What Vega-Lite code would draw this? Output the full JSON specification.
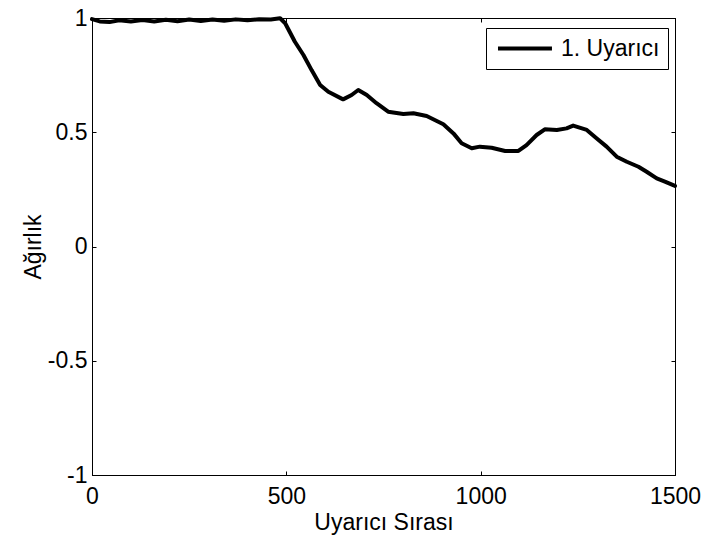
{
  "$schema": "https://vega.github.io/schema/vega-lite/v6.json",
  "width": 583,
  "height": 457,
  "autosize": {"type": "none"},
  "padding": {"left": 92, "top": 18, "right": 31, "bottom": 68},
  "background": "white",
  "config": {
    "font": "Liberation Sans",
    "view": {"stroke": "black", "strokeWidth": 1},
    "axis": {
      "labelFont": "Liberation Sans",
      "titleFont": "Liberation Sans",
      "labelFontSize": 23,
      "titleFontSize": 23,
      "titleFontWeight": "normal",
      "labelColor": "black",
      "titleColor": "black",
      "domainColor": "black",
      "tickColor": "black",
      "grid": false
    }
  },
  "data": {
    "values": [
      {"x": 0, "y": 0.995, "s": "1. Uyarıcı"},
      {"x": 20, "y": 0.985, "s": "1. Uyarıcı"},
      {"x": 45, "y": 0.982, "s": "1. Uyarıcı"},
      {"x": 70, "y": 0.99, "s": "1. Uyarıcı"},
      {"x": 100, "y": 0.985, "s": "1. Uyarıcı"},
      {"x": 130, "y": 0.991, "s": "1. Uyarıcı"},
      {"x": 160, "y": 0.985, "s": "1. Uyarıcı"},
      {"x": 190, "y": 0.992, "s": "1. Uyarıcı"},
      {"x": 220, "y": 0.986, "s": "1. Uyarıcı"},
      {"x": 250, "y": 0.993, "s": "1. Uyarıcı"},
      {"x": 280, "y": 0.987, "s": "1. Uyarıcı"},
      {"x": 310, "y": 0.993, "s": "1. Uyarıcı"},
      {"x": 340, "y": 0.988, "s": "1. Uyarıcı"},
      {"x": 370, "y": 0.994, "s": "1. Uyarıcı"},
      {"x": 400, "y": 0.99, "s": "1. Uyarıcı"},
      {"x": 430, "y": 0.995, "s": "1. Uyarıcı"},
      {"x": 460, "y": 0.993, "s": "1. Uyarıcı"},
      {"x": 484, "y": 0.999, "s": "1. Uyarıcı"},
      {"x": 497, "y": 0.977, "s": "1. Uyarıcı"},
      {"x": 522, "y": 0.896, "s": "1. Uyarıcı"},
      {"x": 544, "y": 0.838, "s": "1. Uyarıcı"},
      {"x": 565, "y": 0.772, "s": "1. Uyarıcı"},
      {"x": 587, "y": 0.707, "s": "1. Uyarıcı"},
      {"x": 608, "y": 0.677, "s": "1. Uyarıcı"},
      {"x": 646, "y": 0.644, "s": "1. Uyarıcı"},
      {"x": 668, "y": 0.663, "s": "1. Uyarıcı"},
      {"x": 685, "y": 0.685, "s": "1. Uyarıcı"},
      {"x": 707, "y": 0.663, "s": "1. Uyarıcı"},
      {"x": 732, "y": 0.627, "s": "1. Uyarıcı"},
      {"x": 762, "y": 0.59, "s": "1. Uyarıcı"},
      {"x": 801, "y": 0.58, "s": "1. Uyarıcı"},
      {"x": 827, "y": 0.583, "s": "1. Uyarıcı"},
      {"x": 861, "y": 0.571, "s": "1. Uyarıcı"},
      {"x": 904, "y": 0.535, "s": "1. Uyarıcı"},
      {"x": 930, "y": 0.495, "s": "1. Uyarıcı"},
      {"x": 951, "y": 0.452, "s": "1. Uyarıcı"},
      {"x": 977, "y": 0.43, "s": "1. Uyarıcı"},
      {"x": 998, "y": 0.437, "s": "1. Uyarıcı"},
      {"x": 1028, "y": 0.432, "s": "1. Uyarıcı"},
      {"x": 1063, "y": 0.418, "s": "1. Uyarıcı"},
      {"x": 1097, "y": 0.418, "s": "1. Uyarıcı"},
      {"x": 1118, "y": 0.444, "s": "1. Uyarıcı"},
      {"x": 1144, "y": 0.488, "s": "1. Uyarıcı"},
      {"x": 1165, "y": 0.513, "s": "1. Uyarıcı"},
      {"x": 1196, "y": 0.51, "s": "1. Uyarıcı"},
      {"x": 1221, "y": 0.517, "s": "1. Uyarıcı"},
      {"x": 1238, "y": 0.529, "s": "1. Uyarıcı"},
      {"x": 1273, "y": 0.51, "s": "1. Uyarıcı"},
      {"x": 1298, "y": 0.474, "s": "1. Uyarıcı"},
      {"x": 1324, "y": 0.437, "s": "1. Uyarıcı"},
      {"x": 1350, "y": 0.393, "s": "1. Uyarıcı"},
      {"x": 1376, "y": 0.371, "s": "1. Uyarıcı"},
      {"x": 1406, "y": 0.349, "s": "1. Uyarıcı"},
      {"x": 1427, "y": 0.327, "s": "1. Uyarıcı"},
      {"x": 1453, "y": 0.298, "s": "1. Uyarıcı"},
      {"x": 1474, "y": 0.284, "s": "1. Uyarıcı"},
      {"x": 1500, "y": 0.265, "s": "1. Uyarıcı"}
    ]
  },
  "layer": [
    {
      "mark": {"type": "line", "strokeWidth": 4, "strokeJoin": "round", "strokeCap": "round"},
      "encoding": {
        "x": {"field": "x", "type": "quantitative", "scale": {"domain": [0, 1500], "nice": false, "zero": false},
          "axis": {"orient": "bottom", "title": "Uyarıcı Sırası", "values": [0, 500, 1000, 1500], "labelExpr": "datum.value + ''", "tickSize": -4, "labelPadding": 14, "titlePadding": 3, "labelFlush": false}},
        "y": {"field": "y", "type": "quantitative", "scale": {"domain": [-1, 1], "nice": false, "zero": false},
          "axis": {"orient": "left", "title": "Ağırlık", "values": [-1, -0.5, 0, 0.5, 1], "labelExpr": "datum.value + ''", "tickSize": -4, "labelPadding": 9, "titlePadding": 2, "labelFlush": false}},
        "color": {"field": "s", "type": "nominal", "scale": {"range": ["black"]},
          "legend": {"title": null, "orient": "none", "legendX": 394, "legendY": 10, "strokeColor": "black", "fillColor": "white",
            "padding": 8, "symbolType": "M-0.81,0H4.33", "symbolSize": 441, "symbolStrokeWidth": 4, "labelFontSize": 23, "labelFont": "Liberation Sans", "labelColor": "black", "labelOffset": 42, "cornerRadius": 0}}
      }
    },
    {
      "mark": {"type": "line", "opacity": 0},
      "encoding": {
        "x": {"field": "x", "type": "quantitative", "scale": {"domain": [0, 1500], "nice": false, "zero": false},
          "axis": {"orient": "top", "title": null, "labels": false, "values": [0, 500, 1000, 1500], "tickSize": -4}},
        "y": {"field": "y", "type": "quantitative", "scale": {"domain": [-1, 1], "nice": false, "zero": false},
          "axis": {"orient": "right", "title": null, "labels": false, "values": [-1, -0.5, 0, 0.5, 1], "tickSize": -4}}
      }
    }
  ],
  "resolve": {"axis": {"x": "independent", "y": "independent"}}
}
